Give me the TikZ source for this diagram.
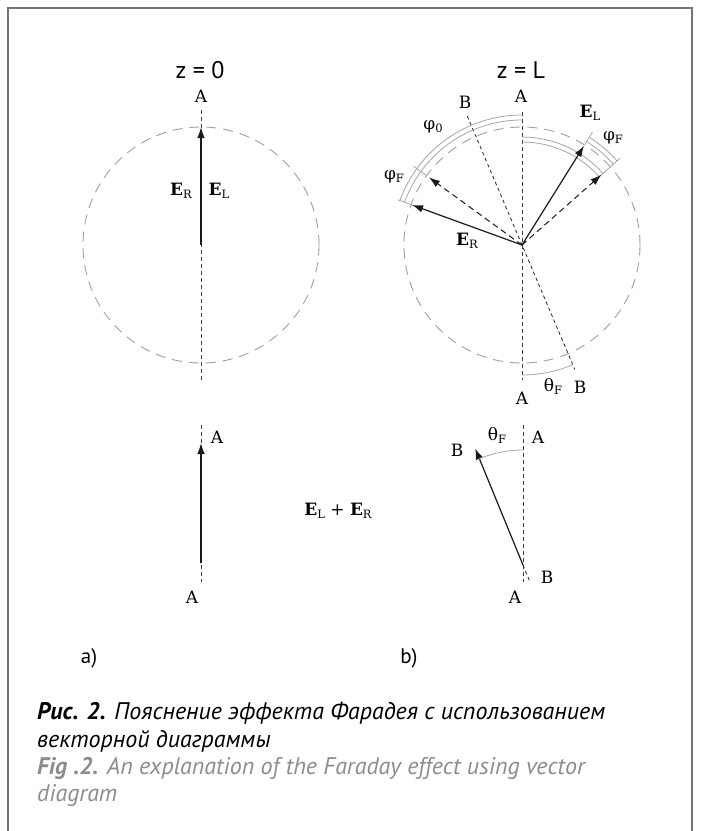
\documentclass[tikz,border=0pt]{standalone}
\usepackage{fontspec}
\setmainfont{DejaVu Serif}
\newfontfamily\capfont{PT Sans}
\usetikzlibrary{arrows.meta,calc}
\newcommand{\lowsub}[1]{\raisebox{-0.35ex}{\fontsize{11.5}{11.5}\selectfont #1}}
\definecolor{capgray}{HTML}{8C8C8C}
\tikzset{
  lbl/.style={font=\fontsize{17}{17}\selectfont, inner sep=0pt},
  circ/.style={draw=gray!75, line width=0.9pt, dash pattern=on 10pt off 7pt},
  axisline/.style={draw=black!75, line width=0.8pt, dash pattern=on 4pt off 3pt},
  bline/.style={draw=black!85, line width=0.8pt, dash pattern=on 3.5pt off 3pt},
  vec/.style={draw=black!90, line width=1.2pt, -{Latex[length=11pt,width=7.5pt]}},
  dvec/.style={draw=black!90, line width=1pt, dash pattern=on 6pt off 4pt, -{Latex[length=11pt,width=7.5pt]}},
  band/.style={draw=gray!70, line width=0.8pt},
  captxt/.style={font=\capfont\fontsize{24}{24}\selectfont\itshape, anchor=base west, inner sep=0pt},
  headtxt/.style={font=\capfont\fontsize{24}{24}\selectfont, inner sep=0pt},
}
\begin{document}
\begin{tikzpicture}[x=1pt,y=1pt]
\useasboundingbox (0,0) rectangle (701,-831);
% frame
\coordinate (f1) at (8,-831); \coordinate (f2) at (8,-8);
\coordinate (f3) at (692,-8); \coordinate (f4) at (692,-831);
\draw[black!55, line width=1.2pt] (f1) -- (f2) -- (f3) -- (f4);

% headings
\node[headtxt] (h0) at (200,-70) {z = 0};
\node[headtxt] (hL) at (521,-70) {z = L};

% ===== left top diagram =====
\coordinate (OL) at (201,-245);
\draw[circ] (OL) circle[radius=118pt];
\coordinate (axLt) at (201,-110); \coordinate (axLb) at (201,-380);
\draw[axisline] (axLt) -- (axLb);
\coordinate (vL) at (201,-127);
\draw[vec] (OL) -- (vL);
\node[lbl] (AL) at (201,-96) {A};
\node[lbl] (ERL) at (181,-191) {\textbf{E}\lowsub{R}};
\node[lbl] (ELL) at (219,-191) {\textbf{E}\lowsub{L}};

% ===== right top diagram =====
\coordinate (O) at (522,-245);
\draw[circ] (O) circle[radius=118pt];
\coordinate (axRt) at (522,-112); \coordinate (axRb) at (522,-380);
\draw[axisline] (axRt) -- (axRb);
\coordinate (Bt) at ($(O)+(113:140pt)$);
\coordinate (Bb) at ($(O)+(293:135pt)$);
\draw[bline] (Bt) -- (Bb);
% band arcs
\draw[band] ($(O)+(90:125pt)$) arc[start angle=90, end angle=160, radius=125pt];
\draw[band] ($(O)+(90:130pt)$) arc[start angle=90, end angle=160, radius=130pt];
\draw[band] ($(O)+(144:118pt)$) -- ($(O)+(144:134pt)$);
\draw[band] ($(O)+(160:116pt)$) -- ($(O)+(160:132pt)$);
\draw[band] ($(O)+(90:103pt)$) arc[start angle=90, end angle=41.5, radius=103pt];
\draw[band] ($(O)+(90:108pt)$) arc[start angle=90, end angle=41.5, radius=108pt];
\draw[band] ($(O)+(58:122pt)$) arc[start angle=58, end angle=41.5, radius=122pt];
\draw[band] ($(O)+(58:127pt)$) arc[start angle=58, end angle=41.5, radius=127pt];
\draw[band] ($(O)+(58:119pt)$) -- ($(O)+(58:133pt)$);
\draw[band] ($(O)+(41.5:103pt)$) -- ($(O)+(41.5:131pt)$);
\draw[band] ($(O)+(270:130pt)$) arc[start angle=270, end angle=293, radius=130pt];
% vectors
\coordinate (ER) at ($(O)+(160:117pt)$);
\coordinate (EL) at ($(O)+(58:117pt)$);
\coordinate (DR) at ($(O)+(144:115pt)$);
\coordinate (DL) at ($(O)+(41.5:106pt)$);
\draw[dvec] (O) -- (DR);
\draw[dvec] (O) -- (DL);
\draw[vec] (O) -- (ER);
\draw[vec] (O) -- (EL);
% labels
\node[lbl] (AR) at (521,-96) {A};
\node[lbl] (BR) at (465,-102) {B};
\node[lbl] (ELR) at (590,-113) {\textbf{E}\lowsub{L}};
\node[lbl] (ERR) at (467,-241) {\textbf{E}\lowsub{R}};
\node[lbl] (phiFr) at (613,-138) {φ\lowsub{F}};
\node[lbl] (phi0) at (433,-127) {φ\lowsub{0}};
\node[lbl] (phiFl) at (394,-177) {φ\lowsub{F}};
\node[lbl] (AR2) at (522,-398) {A};
\node[lbl] (thF) at (553,-386) {θ\lowsub{F}};
\node[lbl] (BR2) at (580,-387) {B};

% ===== left bottom diagram =====
\coordinate (axL2t) at (201,-425); \coordinate (axL2b) at (201,-582);
\draw[axisline] (axL2t) -- (axL2b);
\coordinate (vL2s) at (201,-563); \coordinate (vL2e) at (201,-443);
\draw[vec] (vL2s) -- (vL2e);
\node[lbl] (AL3) at (217,-437) {A};
\node[lbl] (AL4) at (192,-597) {A};
\node[lbl] (sum) at (338,-511) {\textbf{E}\lowsub{L} + \textbf{E}\lowsub{R}};

% ===== right bottom diagram =====
\coordinate (P) at (523,-565);
\coordinate (axR2t) at (523,-425); \coordinate (axR2b) at (523,-582);
\draw[axisline] (axR2t) -- (axR2b);
\coordinate (Pv) at ($(P)+(112.3:126pt)$);
\draw[vec] (P) -- (Pv);
\draw[band] ($(P)+(90:115pt)$) arc[start angle=90, end angle=112.3, radius=115pt];
\coordinate (Pb) at ($(P)+(292.3:18pt)$);
\draw[bline] (P) -- (Pb);
\node[lbl] (B3) at (457,-450) {B};
\node[lbl] (th3) at (497,-435) {θ\lowsub{F}};
\node[lbl] (A5) at (538,-437) {A};
\node[lbl] (B4) at (547,-577) {B};
\node[lbl] (A6) at (515,-597) {A};

% sub-figure labels
\node[headtxt, font=\capfont\fontsize{21}{21}\selectfont] (la) at (89,-658) {a)};
\node[headtxt, font=\capfont\fontsize{21}{21}\selectfont] (lb) at (409,-658) {b)};

% caption
\node[captxt] (c1) at (37,-719) {\textbf{Рис. 2.} Пояснение эффекта Фарадея с использованием};
\node[captxt] (c2) at (37,-747) {векторной диаграммы};
\node[captxt, text=capgray] (c3) at (37,-774) {\textbf{Fig .2.} An explanation of the Faraday effect using vector};
\node[captxt, text=capgray] (c4) at (37,-801) {diagram};
\end{tikzpicture}
\end{document}
